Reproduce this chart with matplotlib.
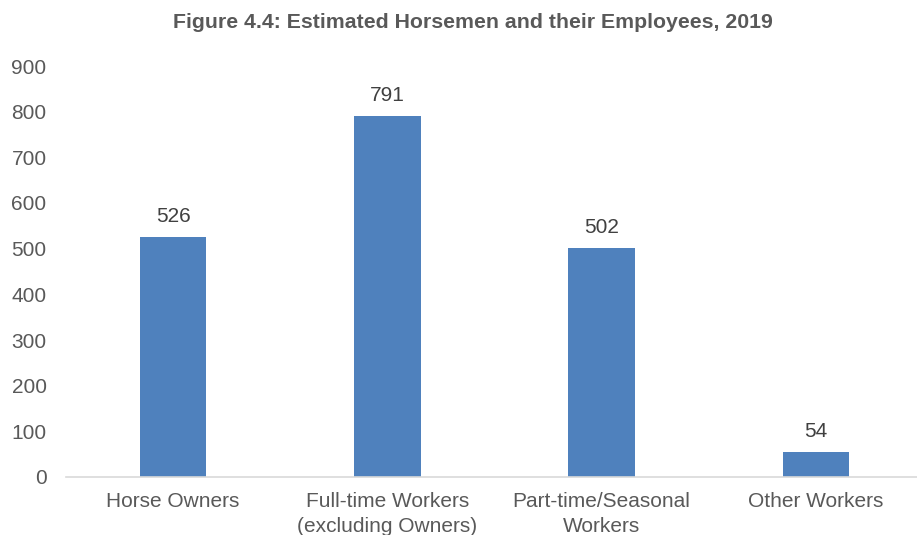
import matplotlib
matplotlib.use("Agg")
import matplotlib.pyplot as plt

categories = ["Horse Owners", "Full-time Workers\n(excluding Owners)", "Part-time/Seasonal\nWorkers", "Other Workers"]
values = [526, 791, 502, 54]
yticks = [0, 100, 200, 300, 400, 500, 600, 700, 800, 900]

plt.rcParams['font.family'] = ['Liberation Sans', 'DejaVu Sans']

W, H = 917, 535
fig = plt.figure(figsize=(W/100, H/100), dpi=100)
left = 66 / W
right = 923 / W
bottom = (H - 477) / H
top = (H - 66) / H
ax = fig.add_axes([left, bottom, right - left, top - bottom])

x = list(range(len(categories)))
bars = ax.bar(x, values, width=0.31, color="#4F81BD", zorder=2)
ax.set_xlim(-0.5, len(categories) - 0.5)
ax.set_ylim(0, 900)
ax.set_yticks(yticks)
ax.set_yticklabels([str(t) for t in yticks])
ax.set_xticks(x)
ax.set_xticklabels(categories, linespacing=1.4)

for s in ["top", "right", "left"]:
    ax.spines[s].set_visible(False)
ax.spines["bottom"].set_color("#D9D9D9")
ax.spines["bottom"].set_linewidth(1.2)
ax.tick_params(axis="y", length=0, pad=14, labelsize=15, labelcolor="#595959")
ax.tick_params(axis="x", length=0, pad=11, labelsize=15, labelcolor="#595959")

for xi, v in zip(x, values):
    ax.annotate(str(v), (xi, v), xytext=(0, 8), textcoords="offset points",
                ha="center", va="bottom", fontsize=15, color="#404040")

fig.text(473 / W, 1 - 22 / H, "Figure 4.4: Estimated Horsemen and their Employees, 2019",
         ha="center", va="center", fontsize=15.3, fontweight="bold", color="#595959")

fig.savefig("out.png", dpi=100)
